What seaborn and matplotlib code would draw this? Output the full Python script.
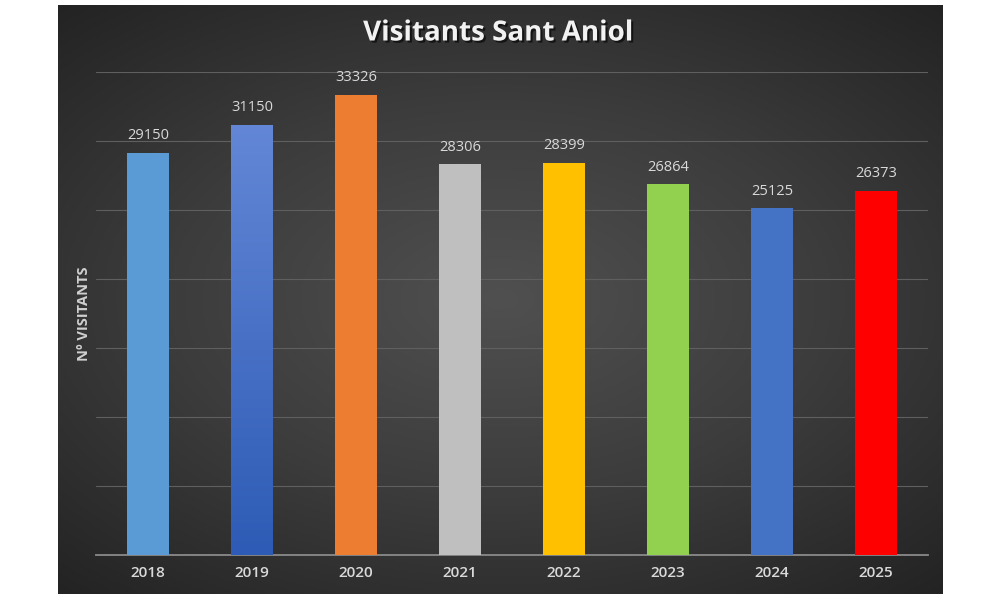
import numpy as np
import pandas as pd
import matplotlib
matplotlib.use("Agg")
import matplotlib.pyplot as plt
import matplotlib.patheffects as pe
from matplotlib.colors import LinearSegmentedColormap
import seaborn as sns

years = ["2018", "2019", "2020", "2021", "2022", "2023", "2024", "2025"]
visitors = [29150, 31150, 33326, 28306, 28399, 26864, 25125, 26373]
colors = ["#5B9BD5", "#4472C4", "#ED7D31", "#BFBFBF", "#FFC000", "#92D050", "#4472C4", "#FF0000"]

df = pd.DataFrame({"year": years, "visitors": visitors})

sns.set_theme(style="dark")
plt.rcParams["font.family"] = ["Open Sans", "DejaVu Sans"]

fig = plt.figure(figsize=(10, 6), dpi=100, facecolor="white")

# dark panel with radial gradient
bg = fig.add_axes([0.058, 0.01, 0.884, 0.982], zorder=0)
ny, nx = 300, 450
yy, xx = np.mgrid[-1:1:ny * 1j, -1:1:nx * 1j]
r = np.sqrt((xx * 0.9) ** 2 + (yy * 1.0) ** 2)
r = np.clip(r / 1.35, 0, 1)
cmap_bg = LinearSegmentedColormap.from_list("bg", ["#505050", "#3c3c3c", "#232323"])
bg.imshow(r, cmap=cmap_bg, aspect="auto", extent=[0, 1, 0, 1], vmin=0, vmax=1)
bg.set_axis_off()

ax = fig.add_axes([0.096, 0.075, 0.832, 0.805], zorder=1)
ax.patch.set_alpha(0)

sns.barplot(data=df, x="year", y="visitors", hue="year", palette=colors,
            width=0.4, legend=False, ax=ax, saturation=1, zorder=3,
            linewidth=0, edgecolor="none")

ax.set_ylim(0, 35000)
ax.set_xlim(-0.5, len(years) - 0.5)
ax.set_yticks(np.arange(0, 35001, 5000))
ax.yaxis.grid(True, color="#5f5f5f", linewidth=0.8, zorder=0)
ax.xaxis.grid(False)
ax.set_yticklabels([])
ax.tick_params(axis="y", length=0)
ax.tick_params(axis="x", length=0, colors="#d9d9d9", labelsize=11, pad=8)
for lab in ax.get_xticklabels():
    lab.set_fontweight("semibold")
for s in ["top", "right", "left"]:
    ax.spines[s].set_visible(False)
ax.spines["bottom"].set_color("#8a8a8a")
ax.spines["bottom"].set_linewidth(1.3)
ax.set_xlabel("")
ax.set_ylabel("Nº VISITANTS", color="#d0d0d0", fontsize=10.5, fontweight="bold", labelpad=0)

# gradient on the 2019 bar
bars = ax.patches
grad_cmap = LinearSegmentedColormap.from_list("g19", ["#2D5BB5", "#6387D6"])
b = bars[1]
x0, y0 = b.get_x(), b.get_y()
w, h = b.get_width(), b.get_height()
grad = np.linspace(0, 1, 256).reshape(-1, 1)
im = ax.imshow(grad, cmap=grad_cmap, aspect="auto", origin="lower",
               extent=[x0, x0 + w, y0, y0 + h], zorder=3.5)
im.set_clip_path(b)
ax.set_xlim(-0.5, len(years) - 0.5)
ax.set_ylim(0, 35000)

for p, v in zip(bars, visitors):
    ax.text(p.get_x() + p.get_width() / 2, v + 700, f"{v}", ha="center", va="bottom",
            color="#d9d9d9", fontsize=10.5, zorder=5)

fig.text(0.498, 0.945, "Visitants Sant Aniol", ha="center", va="center",
         color="#f2f2f2", fontsize=20, fontweight="bold",
         path_effects=[pe.withSimplePatchShadow(offset=(1.5, -1.5), shadow_rgbFace="black", alpha=0.6)])

fig.savefig("out.png", dpi=100, facecolor="white")
